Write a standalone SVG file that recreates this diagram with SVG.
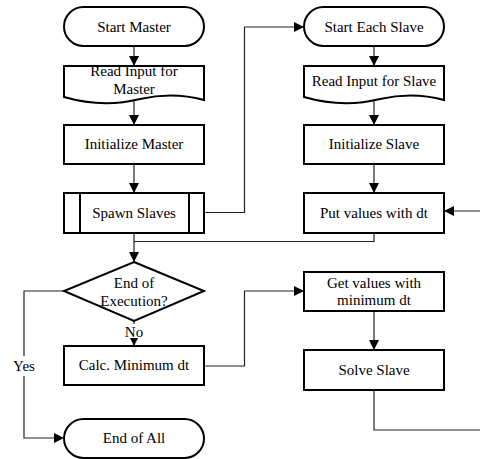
<svg xmlns="http://www.w3.org/2000/svg" width="480" height="459" viewBox="0 0 480 459">
<defs>
<style>
.n{fill:#fff;stroke:#000;stroke-width:2}
.t{font-family:'Liberation Serif','Times New Roman','DejaVu Serif',serif;font-size:15px;fill:#000;text-anchor:middle}
.c{fill:none;stroke:#222;stroke-width:1.2}
</style>
<marker id="ah" markerWidth="10" markerHeight="10" refX="9" refY="5" orient="auto" markerUnits="userSpaceOnUse">
<path d="M0,0 L10,5 L0,10 Z" fill="#000"/>
</marker>
<marker id="ahs" markerWidth="8" markerHeight="8" refX="7" refY="4" orient="auto" markerUnits="userSpaceOnUse">
<path d="M0,0 L8,4 L0,8 Z" fill="#000"/>
</marker>
</defs>
<rect width="480" height="459" fill="#fff"/>
<g id="connectors">
<path class="c" d="M134,46 V65" marker-end="url(#ah)"/>
<path class="c" d="M134,100 V124" marker-end="url(#ah)"/>
<path class="c" d="M134,164 V192" marker-end="url(#ah)"/>
<path class="c" d="M204,212.5 H244.5 V27 H303" marker-end="url(#ah)"/>
<path class="c" d="M374,46 V65" marker-end="url(#ah)"/>
<path class="c" d="M374,100 V124" marker-end="url(#ah)"/>
<path class="c" d="M374,164 V192" marker-end="url(#ah)"/>
<path class="c" d="M480,211 H445" marker-end="url(#ah)"/>
<path class="c" d="M374,233 V241.5 H134"/>
<path class="c" d="M134,233 V261" marker-end="url(#ah)"/>
<path class="c" d="M134,321 V324"/>
<path class="c" d="M134,339 V345" marker-end="url(#ahs)"/>
<path class="c" d="M64,291 H24 V356"/>
<path class="c" d="M24,376 V438 H63" marker-end="url(#ah)"/>
<path class="c" d="M204,366 H244.5 V291 H303" marker-end="url(#ah)"/>
<path class="c" d="M374,311 V349" marker-end="url(#ah)"/>
<path class="c" d="M374,390 V430 H480"/>
<text class="t" x="24" y="371" font-family="Liberation Serif, serif">Yes</text>
<text class="t" x="134" y="337" font-family="Liberation Serif, serif">No</text>
</g>
<g id="start-master">
<rect class="n" x="64" y="7" width="140" height="39" rx="19.5"/>
<text class="t" x="134" y="32">Start Master</text>
</g>
<g id="read-master">
<path class="n" d="M64,66 H204 V100 C182,94 162,94 140,99 C112,106 88,104 64,97 Z"/>
<text class="t" x="134" y="76">Read Input for</text>
<text class="t" x="134" y="94">Master</text>
</g>
<g id="init-master">
<rect class="n" x="64" y="125" width="140" height="39"/>
<text class="t" x="134" y="149">Initialize Master</text>
</g>
<g id="spawn-slaves">
<rect class="n" x="64" y="193" width="140" height="40"/>
<path class="n" d="M80,193 V233 M189,193 V233"/>
<text class="t" x="134" y="218">Spawn Slaves</text>
</g>
<g id="end-execution">
<path class="n" d="M134,262 L204,291 L134,321 L64,291 Z"/>
<text class="t" x="134" y="288">End of</text>
<text class="t" x="134" y="306">Execution?</text>
</g>
<g id="calc-min">
<rect class="n" x="64" y="346" width="140" height="39"/>
<text class="t" x="134" y="370">Calc. Minimum dt</text>
</g>
<g id="end-all">
<rect class="n" x="64" y="419" width="140" height="39" rx="19.5"/>
<text class="t" x="134" y="443">End of All</text>
</g>
<g id="start-slave">
<rect class="n" x="304" y="7" width="140" height="39" rx="19.5"/>
<text class="t" x="374" y="32">Start Each Slave</text>
</g>
<g id="read-slave">
<path class="n" d="M304,66 H444 V100 C422,94 402,94 380,99 C352,106 328,104 304,97 Z"/>
<text class="t" x="374" y="86">Read Input for Slave</text>
</g>
<g id="init-slave">
<rect class="n" x="304" y="125" width="140" height="39"/>
<text class="t" x="374" y="149">Initialize Slave</text>
</g>
<g id="put-values">
<rect class="n" x="304" y="193" width="140" height="40"/>
<text class="t" x="374" y="218">Put values with dt</text>
</g>
<g id="get-values">
<rect class="n" x="304" y="272" width="140" height="39"/>
<text class="t" x="374" y="288">Get values with</text>
<text class="t" x="374" y="305">minimum dt</text>
</g>
<g id="solve-slave">
<rect class="n" x="304" y="350" width="140" height="40"/>
<text class="t" x="374" y="375">Solve Slave</text>
</g>
</svg>
